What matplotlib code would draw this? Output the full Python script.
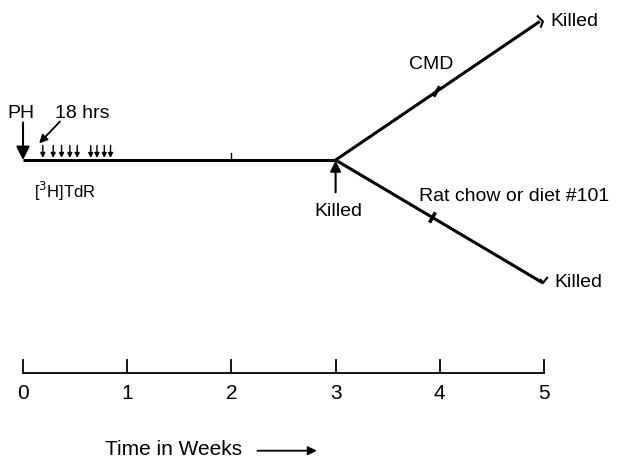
import matplotlib
matplotlib.use("Agg")
import matplotlib.pyplot as plt

plt.rcParams['font.family'] = ['Liberation Sans', 'DejaVu Sans']

# Data (weeks on x; vertical position in arbitrary units, main line at 0)
weeks = [0, 1, 2, 3, 4, 5]
tick_labels = ['0', '1', '2', '3', '4', '5']
main_line_x = [0, 3]
main_line_y = [0, 0]
upper_branch_x = [3, 4.96]
upper_branch_y = [0, 1.33]
lower_branch_x = [3, 4.99]
lower_branch_y = [0, -1.18]
tdr_times = [0.19, 0.29, 0.37, 0.45, 0.52, 0.65, 0.71, 0.78, 0.84]
axis_level = -2.044

fig = plt.figure(figsize=(6.26, 4.63), dpi=100)
ax = fig.add_axes([0, 0, 1, 1])
ax.set_xlim(-0.2207, 5.787)
ax.set_ylim(-2.908, 1.536)
ax.axis('off')

lw = 2.2
ax.plot(main_line_x, main_line_y, color='black', lw=lw, solid_capstyle='butt')
ax.plot(upper_branch_x, upper_branch_y, color='black', lw=lw, solid_capstyle='butt')
ax.plot(lower_branch_x, lower_branch_y, color='black', lw=lw, solid_capstyle='butt')

# small tick at week 2 on main line
ax.plot([2, 2], [0, 0.07], color='black', lw=1.0)

# end hooks
ux, uy = upper_branch_x[-1], upper_branch_y[-1]
ax.plot([ux - 0.02, ux + 0.03, ux + 0.01], [uy + 0.05, uy, uy - 0.05], color='black', lw=1.5)
lx, ly = lower_branch_x[-1], lower_branch_y[-1]
ax.plot([lx - 0.02, lx, lx + 0.04], [ly + 0.03, ly, ly + 0.05], color='black', lw=1.5)

# marks at week 4 on branches
def interp(xs, ys, x):
    return ys[0] + (ys[1] - ys[0]) * (x - xs[0]) / (xs[1] - xs[0])
ux4 = 3.97
uy4 = interp(upper_branch_x, upper_branch_y, ux4)
ax.plot([ux4 - 0.02, ux4 + 0.02], [uy4 - 0.035, uy4 + 0.035], color='black', lw=2.5)
lx4 = 3.93
ly4 = interp(lower_branch_x, lower_branch_y, lx4)
ax.plot([lx4 - 0.02, lx4 + 0.02], [ly4 - 0.035, ly4 + 0.035], color='black', lw=2.5)

fs = 14

# PH arrow
ax.annotate('', xy=(0, 0), xytext=(0, 0.36),
            arrowprops=dict(arrowstyle='-|>', color='black', lw=1.5,
                            mutation_scale=20, shrinkA=0, shrinkB=0))
ax.text(-0.02, 0.45, 'PH', fontsize=fs, ha='center', va='center')

# 18 hrs arrow
ax.annotate('', xy=(0.155, 0.16), xytext=(0.355, 0.37),
            arrowprops=dict(arrowstyle='-|>', color='black', lw=1.3,
                            mutation_scale=12, shrinkA=0, shrinkB=0))
ax.text(0.31, 0.45, '18 hrs', fontsize=fs, ha='left', va='center')

# [3H]TdR injection arrows
for t in tdr_times:
    ax.annotate('', xy=(t, 0.02), xytext=(t, 0.14),
                arrowprops=dict(arrowstyle='-|>', color='black', lw=1.0,
                                mutation_scale=7, shrinkA=0, shrinkB=0))
ax.text(0.11, -0.30, '[$^{3}$H]TdR', fontsize=12, ha='left', va='center')

# killed arrow at week 3
ax.annotate('', xy=(3, -0.005), xytext=(3, -0.31),
            arrowprops=dict(arrowstyle='-|>', color='black', lw=1.5,
                            mutation_scale=16, shrinkA=0, shrinkB=0))
ax.text(3.03, -0.49, 'Killed', fontsize=fs, ha='center', va='center')

ax.text(5.06, 1.33, 'Killed', fontsize=fs, ha='left', va='center')
ax.text(5.1, -1.18, 'Killed', fontsize=fs, ha='left', va='center')
ax.text(3.92, 0.92, 'CMD', fontsize=fs, ha='center', va='center')
ax.text(3.8, -0.35, 'Rat chow or diet #101', fontsize=fs, ha='left', va='center')

# time axis
ax.plot([weeks[0], weeks[-1]], [axis_level, axis_level], color='black', lw=1.3)
for w, lab in zip(weeks, tick_labels):
    ax.plot([w, w], [axis_level, axis_level + 0.12], color='black', lw=1.3)
    ax.text(w, axis_level - 0.2, lab, fontsize=15, ha='center', va='center')

ax.text(0.79, -2.78, 'Time in Weeks', fontsize=15, ha='left', va='center')
ax.annotate('', xy=(2.82, -2.79), xytext=(2.25, -2.79),
            arrowprops=dict(arrowstyle='-|>', color='black', lw=1.3,
                            mutation_scale=13, shrinkA=0, shrinkB=0))

fig.savefig('out.png', dpi=100)
